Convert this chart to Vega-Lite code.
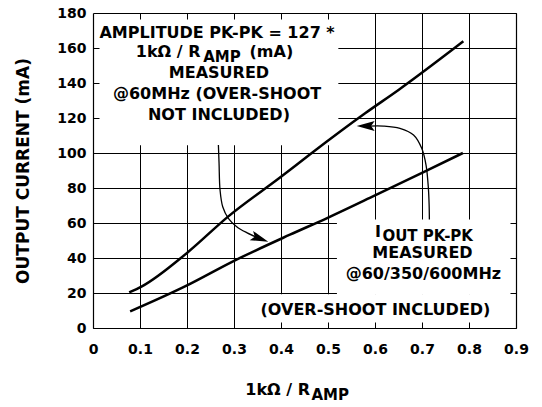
{
  "$schema": "https://vega.github.io/schema/vega-lite/v6.json",
  "width": 423,
  "height": 315,
  "autosize": {"type": "none"},
  "padding": {"left": 93, "top": 13, "right": 26, "bottom": 79},
  "background": "white",
  "config": {
    "view": {"stroke": null},
    "text": {"font": "DejaVu Sans", "fontWeight": "bold", "color": "black"},
    "axis": {"labelFont": "DejaVu Sans", "labelFontWeight": "bold", "labelColor": "black", "titleFont": "DejaVu Sans", "titleFontWeight": "bold", "titleColor": "black"}
  },
  "datasets": {
    "lines": [
      {"series": "upper", "x": 0.077, "y": 20.3},
      {"series": "upper", "x": 0.104, "y": 23.8},
      {"series": "upper", "x": 0.2, "y": 42.9},
      {"series": "upper", "x": 0.288, "y": 63.8},
      {"series": "upper", "x": 0.4, "y": 86.4},
      {"series": "upper", "x": 0.462, "y": 99.3},
      {"series": "upper", "x": 0.579, "y": 122.7},
      {"series": "upper", "x": 0.65, "y": 136},
      {"series": "upper", "x": 0.788, "y": 163.8},
      {"series": "lower", "x": 0.079, "y": 9.5},
      {"series": "lower", "x": 0.199, "y": 24.2},
      {"series": "lower", "x": 0.298, "y": 38.1},
      {"series": "lower", "x": 0.419, "y": 53.3},
      {"series": "lower", "x": 0.497, "y": 62.7},
      {"series": "lower", "x": 0.6, "y": 75.8},
      {"series": "lower", "x": 0.7, "y": 88.7},
      {"series": "lower", "x": 0.787, "y": 100}
    ],
    "arrows": [
      {"id": "a1", "ord": 1, "x": 0.2668, "y": 104.6},
      {"id": "a1", "ord": 2, "x": 0.2682, "y": 94.1},
      {"id": "a1", "ord": 3, "x": 0.2703, "y": 78.9},
      {"id": "a1", "ord": 4, "x": 0.276, "y": 69.3},
      {"id": "a1", "ord": 5, "x": 0.288, "y": 62.7},
      {"id": "a1", "ord": 6, "x": 0.3058, "y": 57.9},
      {"id": "a1", "ord": 7, "x": 0.327, "y": 54.5},
      {"id": "a1", "ord": 8, "x": 0.348, "y": 51.9},
      {"id": "a2", "ord": 1, "x": 0.7157, "y": 62},
      {"id": "a2", "ord": 2, "x": 0.7152, "y": 70},
      {"id": "a2", "ord": 3, "x": 0.7136, "y": 79.8},
      {"id": "a2", "ord": 4, "x": 0.7086, "y": 93.1},
      {"id": "a2", "ord": 5, "x": 0.6994, "y": 102.7},
      {"id": "a2", "ord": 6, "x": 0.682, "y": 110.3},
      {"id": "a2", "ord": 7, "x": 0.653, "y": 114.1},
      {"id": "a2", "ord": 8, "x": 0.618, "y": 115.4},
      {"id": "a2", "ord": 9, "x": 0.588, "y": 115.4}
    ],
    "heads": [
      {"id": "a1", "x": 0.373, "y": 49.3},
      {"id": "a2", "x": 0.561, "y": 115.4}
    ],
    "boxes": [
      {"x": 0, "x2": 0.522, "y": 104.5, "y2": 180},
      {"x": 0.519, "x2": 0.9, "y": 19, "y2": 62},
      {"x": 0.33, "x2": 0.9, "y": 0, "y2": 19.3}
    ],
    "centerText": [
      {"x": 0.264, "y": 165.5, "text": "AMPLITUDE PK-PK = 127 *"},
      {"x": 0.268, "y": 142.7, "text": "MEASURED"},
      {"x": 0.264, "y": 130.7, "text": "@60MHz (OVER-SHOOT"},
      {"x": 0.268, "y": 118.9, "text": "NOT INCLUDED)"},
      {"x": 0.701, "y": 40, "text": "MEASURED"},
      {"x": 0.703, "y": 27.8, "text": "@60/350/600MHz"},
      {"x": 0.601, "y": 7.4, "text": "(OVER-SHOOT INCLUDED)"}
    ],
    "rightText": [
      {"x": 0.2288, "y": 155, "text": "1kΩ / R"},
      {"x": 0.6128, "y": 51.8, "text": "I"},
      {"x": 0.4617, "y": -38.3, "text": "1kΩ / R"}
    ],
    "subText": [
      {"x": 0.2345, "y": 151.8, "text": "AMP"},
      {"x": 0.6158, "y": 49.9, "text": "OUT PK-PK"},
      {"x": 0.4647, "y": -41.1, "text": "AMP"}
    ],
    "leftText": [
      {"x": 0.333, "y": 155, "text": "(mA)"}
    ]
  },
  "resolve": {"axis": {"x": "independent", "y": "independent"}},
  "layer": [
    {
      "data": {"name": "boxes"},
      "mark": {"type": "rect", "fill": "white", "strokeWidth": 0},
      "encoding": {
        "x": {"field": "x", "type": "quantitative", "scale": {"domain": [0, 0.9], "nice": false, "zero": false},
          "axis": {"orient": "bottom", "values": [0, 0.1, 0.2, 0.3, 0.4, 0.5, 0.6, 0.7, 0.8, 0.9], "grid": true, "gridColor": "black", "gridOpacity": 1, "gridWidth": 1, "ticks": false, "labels": false, "domain": false, "title": null, "zindex": 0}},
        "x2": {"field": "x2"},
        "y": {"field": "y", "type": "quantitative", "scale": {"domain": [0, 180], "nice": false, "zero": false},
          "axis": {"orient": "left", "values": [0, 20, 40, 60, 80, 100, 120, 140, 160, 180], "grid": true, "gridColor": "black", "gridOpacity": 1, "gridWidth": 1, "ticks": false, "labels": false, "domain": false, "title": null, "zindex": 0}},
        "y2": {"field": "y2"}
      }
    },
    {
      "data": {"name": "lines"},
      "mark": {"type": "line", "color": "black", "strokeWidth": 2.5, "interpolate": "monotone"},
      "encoding": {
        "detail": {"field": "series"},
        "x": {"field": "x", "type": "quantitative", "scale": {"domain": [0, 0.9], "nice": false, "zero": false},
          "axis": {"orient": "bottom", "values": [0, 0.1, 0.2, 0.3, 0.4, 0.5, 0.6, 0.7, 0.8, 0.9], "format": ".1~f", "grid": false, "ticks": false, "labels": true, "labelPadding": 14, "labelFontSize": 14, "labelFlush": false, "labelOverlap": false, "domain": true, "domainColor": "black", "domainWidth": 1.2, "title": null, "zindex": 1}},
        "y": {"field": "y", "type": "quantitative", "scale": {"domain": [0, 180], "nice": false, "zero": false},
          "axis": {"orient": "left", "values": [0, 20, 40, 60, 80, 100, 120, 140, 160, 180], "grid": false, "ticks": false, "labels": true, "labelPadding": 7, "labelFontSize": 14, "labelFlush": false, "labelOverlap": false, "domain": true, "domainColor": "black", "domainWidth": 1.2, "title": "OUTPUT CURRENT (mA)", "titleFontSize": 17, "titlePadding": 24, "zindex": 1}}
      }
    },
    {
      "data": {"name": "arrows"},
      "mark": {"type": "line", "color": "black", "strokeWidth": 1.3, "interpolate": "catmull-rom"},
      "encoding": {
        "detail": {"field": "id"},
        "order": {"field": "ord", "type": "quantitative"},
        "x": {"field": "x", "type": "quantitative", "scale": {"domain": [0, 0.9], "nice": false, "zero": false},
          "axis": {"orient": "top", "grid": false, "ticks": false, "labels": false, "domain": true, "domainColor": "black", "domainWidth": 1.2, "title": null, "zindex": 1}},
        "y": {"field": "y", "type": "quantitative", "scale": {"domain": [0, 180], "nice": false, "zero": false},
          "axis": {"orient": "right", "grid": false, "ticks": false, "labels": false, "domain": true, "domainColor": "black", "domainWidth": 1.2, "title": null, "zindex": 1}}
      }
    },
    {
      "data": {"name": "heads"},
      "transform": [{"filter": "datum.id === 'a1'"}],
      "mark": {"type": "point", "shape": "M0,0L-2,-0.55L-1.6,0L-2,0.55Z", "size": 324, "filled": true, "fill": "black", "opacity": 1, "strokeWidth": 0, "angle": 20},
      "encoding": {
        "x": {"field": "x", "type": "quantitative", "scale": {"domain": [0, 0.9], "nice": false, "zero": false},
          "axis": {"orient": "bottom", "offset": -6, "values": [0.1, 0.2, 0.3, 0.4, 0.5, 0.6, 0.7, 0.8], "grid": false, "ticks": true, "tickSize": 6, "tickColor": "black", "tickWidth": 1, "labels": false, "domain": false, "title": null, "zindex": 1}},
        "y": {"field": "y", "type": "quantitative", "scale": {"domain": [0, 180], "nice": false, "zero": false},
          "axis": {"orient": "left", "offset": -6, "values": [20, 40, 60, 80, 100, 120, 140, 160], "grid": false, "ticks": true, "tickSize": 6, "tickColor": "black", "tickWidth": 1, "labels": false, "domain": false, "title": null, "zindex": 1}}
      }
    },
    {
      "data": {"name": "heads"},
      "transform": [{"filter": "datum.id === 'a2'"}],
      "mark": {"type": "point", "shape": "M0,0L-2,-0.55L-1.6,0L-2,0.55Z", "size": 324, "filled": true, "fill": "black", "opacity": 1, "strokeWidth": 0, "angle": 180},
      "encoding": {
        "x": {"field": "x", "type": "quantitative", "scale": {"domain": [0, 0.9], "nice": false, "zero": false},
          "axis": {"orient": "top", "offset": -6, "values": [0.1, 0.2, 0.3, 0.4, 0.5, 0.6, 0.7, 0.8], "grid": false, "ticks": true, "tickSize": 6, "tickColor": "black", "tickWidth": 1, "labels": false, "domain": false, "title": null, "zindex": 1}},
        "y": {"field": "y", "type": "quantitative", "scale": {"domain": [0, 180], "nice": false, "zero": false},
          "axis": {"orient": "right", "offset": -6, "values": [20, 40, 60, 80, 100, 120, 140, 160], "grid": false, "ticks": true, "tickSize": 6, "tickColor": "black", "tickWidth": 1, "labels": false, "domain": false, "title": null, "zindex": 1}}
      }
    },
    {
      "data": {"name": "centerText"},
      "mark": {"type": "text", "align": "center", "baseline": "alphabetic", "fontSize": 16},
      "encoding": {
        "text": {"field": "text"},
        "x": {"field": "x", "type": "quantitative", "scale": {"domain": [0, 0.9], "nice": false, "zero": false}, "axis": null},
        "y": {"field": "y", "type": "quantitative", "scale": {"domain": [0, 180], "nice": false, "zero": false}, "axis": null}
      }
    },
    {
      "data": {"name": "rightText"},
      "mark": {"type": "text", "align": "right", "baseline": "alphabetic", "fontSize": 16},
      "encoding": {
        "text": {"field": "text"},
        "x": {"field": "x", "type": "quantitative", "scale": {"domain": [0, 0.9], "nice": false, "zero": false}, "axis": null},
        "y": {"field": "y", "type": "quantitative", "scale": {"domain": [0, 180], "nice": false, "zero": false}, "axis": null}
      }
    },
    {
      "data": {"name": "subText"},
      "mark": {"type": "text", "align": "left", "baseline": "alphabetic", "fontSize": 15},
      "encoding": {
        "text": {"field": "text"},
        "x": {"field": "x", "type": "quantitative", "scale": {"domain": [0, 0.9], "nice": false, "zero": false}, "axis": null},
        "y": {"field": "y", "type": "quantitative", "scale": {"domain": [0, 180], "nice": false, "zero": false}, "axis": null}
      }
    },
    {
      "data": {"name": "leftText"},
      "mark": {"type": "text", "align": "left", "baseline": "alphabetic", "fontSize": 16},
      "encoding": {
        "text": {"field": "text"},
        "x": {"field": "x", "type": "quantitative", "scale": {"domain": [0, 0.9], "nice": false, "zero": false}, "axis": null},
        "y": {"field": "y", "type": "quantitative", "scale": {"domain": [0, 180], "nice": false, "zero": false}, "axis": null}
      }
    }
  ]
}
